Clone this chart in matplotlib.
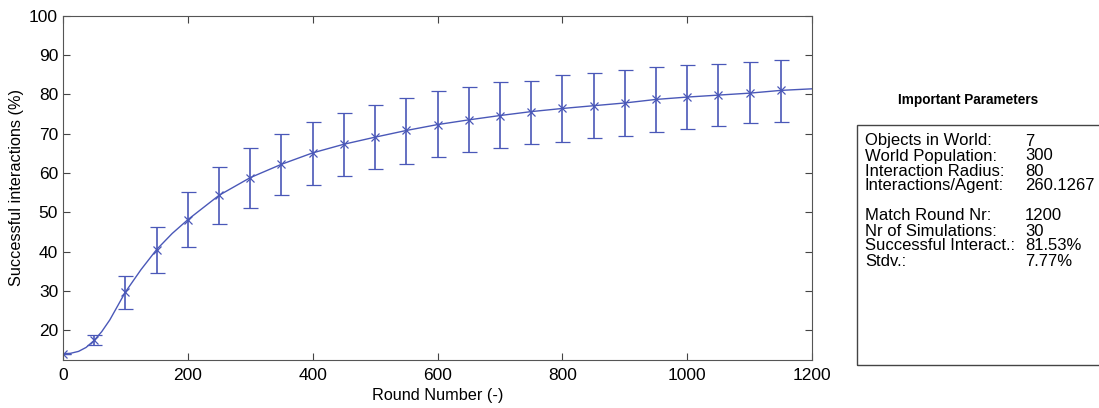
import numpy as np
import matplotlib.pyplot as plt
from matplotlib.patches import Rectangle

plt.rcParams['font.family'] = ['Liberation Sans', 'DejaVu Sans']

# mean +/- std at every 50 rounds
rounds = [0, 50, 100, 150, 200, 250, 300, 350, 400, 450, 500, 550, 600,
          650, 700, 750, 800, 850, 900, 950, 1000, 1050, 1100, 1150]
mean = [14.0, 17.5, 29.7, 40.5, 48.1, 54.3, 58.8, 62.2, 65.1, 67.3, 69.1,
        70.8, 72.3, 73.5, 74.6, 75.6, 76.4, 77.1, 77.8, 78.7, 79.3, 79.8,
        80.3, 81.0]
err_hi = [14.0, 18.8, 33.7, 46.3, 55.1, 61.6, 66.3, 69.9, 73.0, 75.2, 77.3,
          79.1, 80.8, 81.9, 83.2, 83.4, 84.8, 85.3, 86.2, 87.0, 87.4, 87.6,
          88.1, 88.7]
err_lo = [14.0, 16.3, 25.5, 34.6, 41.2, 47.0, 51.2, 54.4, 56.9, 59.2, 61.0,
          62.3, 64.0, 65.2, 66.3, 67.4, 67.8, 68.8, 69.4, 70.5, 71.2, 72.0,
          72.6, 73.0]

# the continuous curve (extra readings where it bends)
curve_x = [0, 12, 25, 37, 50, 62, 75, 87, 100, 125, 150, 175, 200, 250, 300,
           350, 400, 450, 500, 550, 600, 650, 700, 750, 800, 850, 900, 950,
           1000, 1050, 1100, 1150, 1200]
curve_y = [14.0, 14.1, 14.6, 15.6, 17.4, 19.6, 22.6, 26.0, 29.7, 35.4, 40.5,
           44.6, 48.1, 54.3, 58.8, 62.2, 65.1, 67.3, 69.1, 70.8, 72.3, 73.5,
           74.6, 75.6, 76.4, 77.1, 77.8, 78.7, 79.3, 79.8, 80.3, 81.0, 81.4]

param_names = ['Objects in World:', 'World Population:', 'Interaction Radius:',
               'Interactions/Agent:', '', 'Match Round Nr:', 'Nr of Simulations:',
               'Successful Interact.:', 'Stdv.:']
param_values = ['7', '300', '80', '260.1267', '', '1200', '30', '81.53%', '7.77%']

col = '#4a58b8'
fig = plt.figure(figsize=(10.99, 4.08), dpi=100)
ax = fig.add_axes([0.0573, 0.1176, 0.6816, 0.8439])

m = np.array(mean)
yerr = [m - np.array(err_lo), np.array(err_hi) - m]
ax.plot(curve_x, curve_y, color=col, lw=1.0)
ax.errorbar(rounds, mean, yerr=yerr, fmt='x', color=col, ms=6, mew=0.9,
            elinewidth=1.2, capsize=5.4, capthick=1.2)

ax.set_xlim(0, 1200)
ax.set_ylim(12.4, 100)
ax.set_xticks(range(0, 1201, 200))
ax.set_yticks(range(20, 101, 10))
ax.tick_params(direction='in', top=True, right=True, labelsize=12.5,
               color='#444444', length=5)
ax.tick_params(axis='x', pad=6)
for s in ax.spines.values():
    s.set_color('#555555')
ax.set_xlabel('Round Number (-)', fontsize=11.7, labelpad=3)
ax.set_ylabel('Successful interactions (%)', fontsize=11.7, labelpad=4)

# parameter panel
fig.text(968 / 1099, 1 - 100 / 408, 'Important Parameters', ha='center',
         va='center', fontsize=9.8, fontweight='bold')
fig.patches.append(Rectangle((857 / 1099, 1 - 365 / 408), 0.25, 240 / 408,
                             transform=fig.transFigure, fill=False,
                             ec='#444444', lw=1.0))
for i, (n, v) in enumerate(zip(param_names, param_values)):
    y = 1 - (141 + 15 * i) / 408
    fig.text(865 / 1099, y, n, va='center', fontsize=12)
    fig.text(1025 / 1099, y, v, va='center', fontsize=12)

fig.savefig('out.png', dpi=100)
